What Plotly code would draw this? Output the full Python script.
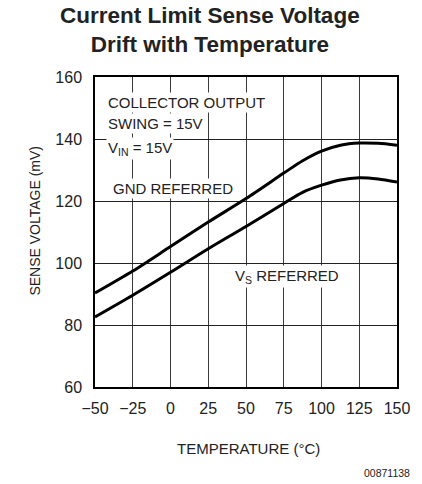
import plotly.graph_objects as go

temp = [-50, -25, 0, 25, 50, 75, 87.5, 100, 112.5, 125, 137.5, 150]
gnd_referred = [90.3, 97.4, 105.3, 113.2, 120.8, 129.0, 133.0, 136.1, 138.0, 138.7, 138.6, 138.0]
vs_referred = [82.6, 89.6, 97.0, 104.6, 111.8, 119.2, 122.8, 125.1, 126.8, 127.5, 127.1, 126.1]

x_ticks = [-50, -25, 0, 25, 50, 75, 100, 125, 150]
y_ticks = [60, 80, 100, 120, 140, 160]

FONT = "Liberation Sans, Arial, sans-serif"
TXT = "#222222"

fig = go.Figure()
for ys in (gnd_referred, vs_referred):
    fig.add_trace(go.Scatter(x=temp, y=ys, mode="lines",
                             line=dict(color="black", width=3, shape="spline", smoothing=0.8),
                             showlegend=False, hoverinfo="skip"))

fig.update_layout(
    width=422, height=484,
    margin=dict(l=95, r=17, t=77, b=97),
    paper_bgcolor="white", plot_bgcolor="white",
    font=dict(family=FONT, color=TXT),
)

fig.update_xaxes(range=[-50, 150], tickvals=x_ticks, ticktext=[("\u2212" + str(-v)) if v < 0 else str(v) for v in x_ticks],
                 showgrid=True, gridcolor="#3a3a3a", gridwidth=1, zeroline=False,
                 showline=True, linecolor="black", linewidth=1.5, mirror=True,
                 ticks="", ticklabelstandoff=6,
                 tickfont=dict(family=FONT, size=16, color=TXT))
fig.update_yaxes(range=[60, 160], tickvals=y_ticks,
                 showgrid=True, gridcolor="#222222", gridwidth=1, zeroline=False,
                 showline=True, linecolor="black", linewidth=1.5, mirror=True,
                 ticks="", ticklabelstandoff=8,
                 tickfont=dict(family=FONT, size=16, color=TXT))

# title as paper annotation (pixel center x ~213, y ~30 from top)
fig.add_annotation(x=(213.5 - 95) / 310, y=(387 - 30) / 310, xref="paper", yref="paper",
                   text="<b>Current Limit Sense Voltage<br>Drift with Temperature</b>",
                   showarrow=False, xanchor="center", yanchor="middle",
                   font=dict(family=FONT, size=22.5, color=TXT))

ann_font = dict(family=FONT, size=15, color=TXT)
notes = [
    ("COLLECTOR OUTPUT", -43, 151.9),
    ("SWING = 15V", -43, 145.0),
    ("V<sub>IN</sub> = 15V", -43, 137.0),
    ("GND REFERRED", -39.5, 124.1),
    ("V<sub>S</sub> REFERRED", 41.3, 95.6),
]
for t, x, y in notes:
    fig.add_annotation(x=x, y=y, xref="x", yref="y", text=t, showarrow=False,
                       xanchor="left", yanchor="middle", font=ann_font,
                       bgcolor="white", borderpad=1)

fig.add_annotation(x=(253 - 95) / 310, y=(387 - 448) / 310, xref="paper", yref="paper", text="TEMPERATURE (°C)",
                   showarrow=False, xanchor="center", yanchor="middle",
                   font=dict(family=FONT, size=15, color=TXT))
fig.add_annotation(x=(33 - 95) / 310, y=(387 - 221) / 310, xref="paper", yref="paper", text="SENSE VOLTAGE (mV)",
                   showarrow=False, textangle=-90, xanchor="center", yanchor="middle",
                   font=dict(family=FONT, size=14, color=TXT))
fig.add_annotation(x=(420 - 95) / 310, y=(387 - 473) / 310, xref="paper", yref="paper", text="00871138",
                   showarrow=False, xanchor="right", yanchor="middle",
                   font=dict(family=FONT, size=10.5, color=TXT))

fig.write_html("out.html", config={"displayModeBar": False},
               post_script="document.body.style.margin='0';document.body.style.padding='0';")
